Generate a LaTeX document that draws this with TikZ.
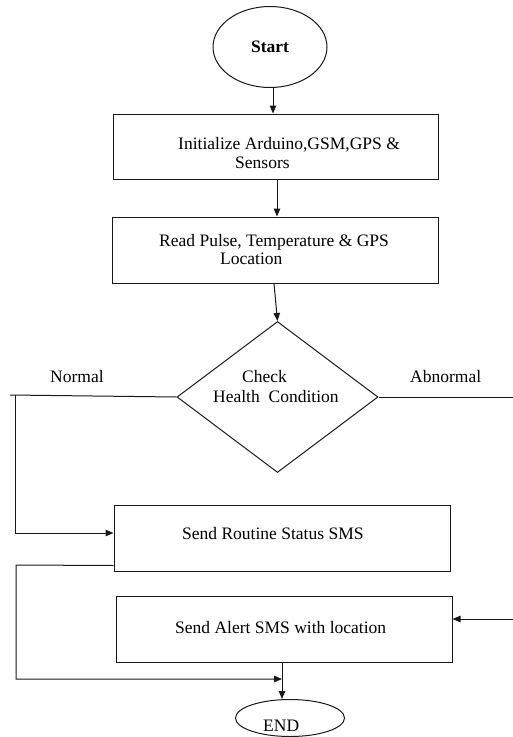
\documentclass[tikz,border=0pt]{standalone}
\usepackage{fontspec}
\setmainfont{Liberation Serif}
\usetikzlibrary{shapes.geometric,arrows.meta}
\begin{document}
\begin{tikzpicture}[x=1pt,y=-1pt,
  every node/.style={font=\fontsize{17.5}{19.5}\selectfont},
  ln/.style={line width=1pt,draw=black!90},
  arr/.style={ln,-{Triangle[length=8pt,width=6.5pt]}},
  box/.style={ln,draw,rectangle,inner sep=0pt},
  txt/.style={inner sep=0pt,anchor=base west},
  oval/.style={ln,draw,ellipse,inner sep=0pt}]
\useasboundingbox[fill=white] (0,0) rectangle (513,737);
% shapes
\node[oval,minimum width=114pt,minimum height=81pt] (start) at (270,47) {\textbf{Start}};
\node[box,minimum width=325pt,minimum height=65pt] (b1) at (275.5,146.5) {};
\node[txt] (t1a) at (178,149) {Initialize Arduino,GSM,GPS \&};
\node[txt] (t1b) at (235,168) {Sensors};
\node[box,minimum width=326pt,minimum height=66pt] (b2) at (275,250) {};
\node[txt] (t2a) at (159,246) {Read Pulse, Temperature \& GPS};
\node[txt] (t2b) at (220,264) {Location};
\node[ln,draw,diamond,inner sep=0pt,minimum width=201pt,minimum height=151pt] (d) at (277.5,397) {};
\node[txt] (t3a) at (242,382) {Check};
\node[txt] (t3b) at (213,402) {Health\ \ Condition};
\node[txt] (tn) at (50,382) {Normal};
\node[txt] (ta) at (410,382) {Abnormal};
\node[box,minimum width=336pt,minimum height=66pt] (b3) at (282,538) {};
\node[txt] (t4) at (182,539) {Send Routine Status SMS};
\node[box,minimum width=336pt,minimum height=66pt] (b4) at (284,629) {};
\node[txt] (t5) at (175,633) {Send Alert SMS with location};
\node[oval,minimum width=109pt,minimum height=37pt] (end) at (290,718) {};
\node[txt] (t6) at (263,731) {END};
% coordinates
\coordinate (nl) at (10,395);
\coordinate (nv) at (15,395);
\coordinate (ar) at (513,397);
\coordinate (ar2) at (513,619);
\coordinate (c1) at (16,565);
\coordinate (c2) at (16,679);
\coordinate (c3) at (282,679);
% connectors
\draw[arr] ([xshift=3pt]start.south) -- ([xshift=3pt]start.south |- b1.north);
\draw[arr] (b1.south -| 277,0) -- (b2.north -| 277,0);
\draw[arr] (b2.south -| 274,0) -- (d.north);
\draw[ln] (d.west) -- (nl);
\draw[arr] (nv) |- ([yshift=5pt]b3.west);
\draw[ln] (d.east) -- (ar);
\draw[arr] (ar2) -- ([yshift=10pt]b4.east);
\draw[arr] ([yshift=6pt]b3.south west) -- (c1) -- (c2) -- (c3);
\draw[arr] (b4.south -| c3) -- (c3 |- end.north);
\end{tikzpicture}
\end{document}
